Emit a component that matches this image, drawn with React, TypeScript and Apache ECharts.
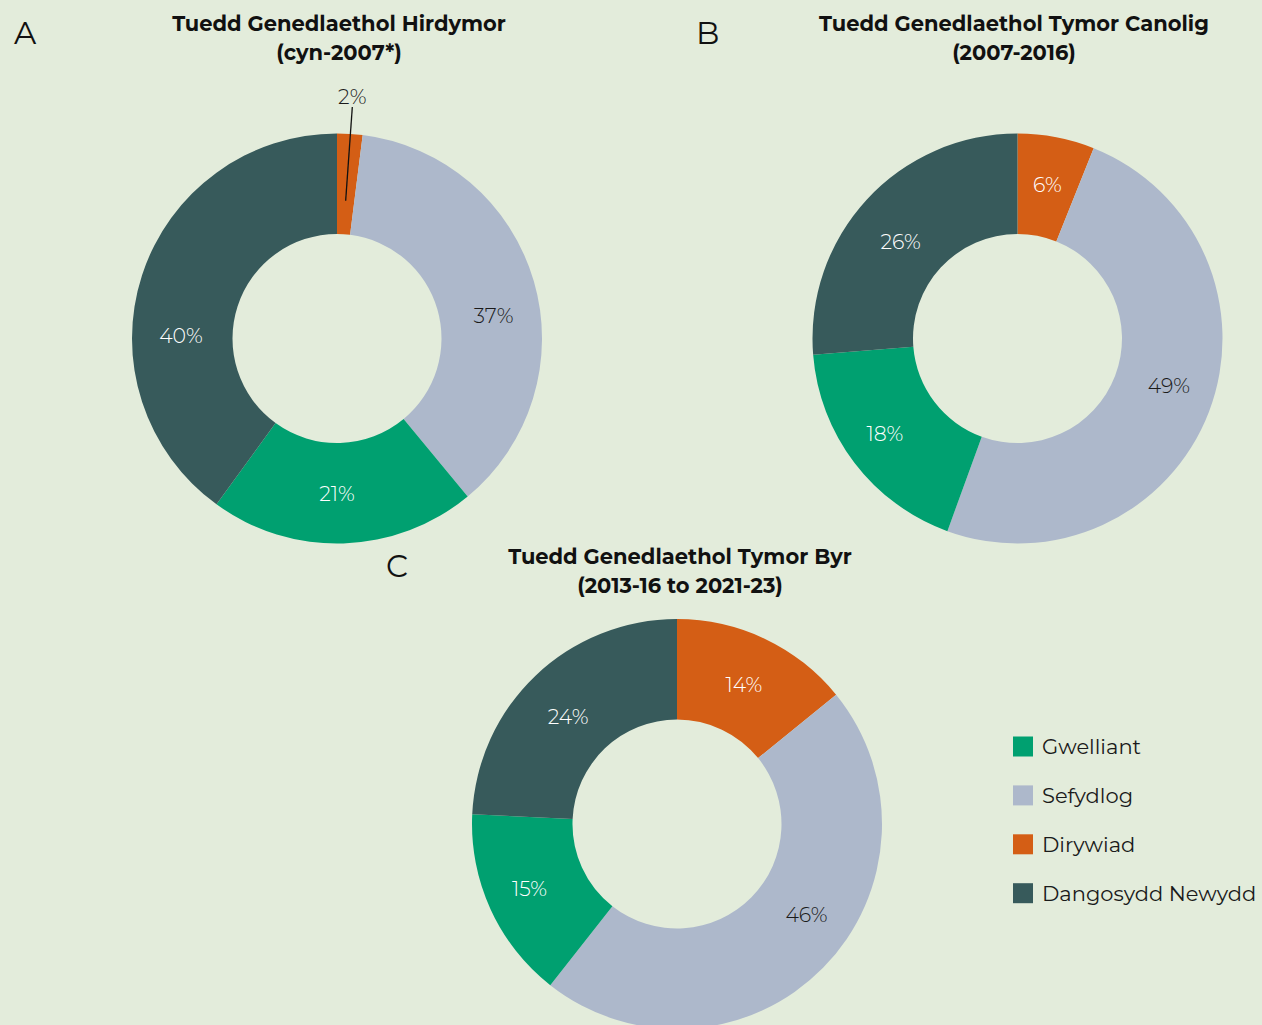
import React, { useEffect, useRef } from "react";
import * as echarts from "echarts";

const categories = ["Dirywiad", "Sefydlog", "Gwelliant", "Dangosydd Newydd"];
const legendOrder = ["Gwelliant", "Sefydlog", "Dirywiad", "Dangosydd Newydd"];
const colors: Record<string, string> = {
  Dirywiad: "#d45e15",
  Sefydlog: "#adb8cb",
  Gwelliant: "#00a070",
  "Dangosydd Newydd": "#375a5b",
};
const labelColors: Record<string, string> = {
  Dirywiad: "#ffffff",
  Sefydlog: "#1a1a1a",
  Gwelliant: "#ffffff",
  "Dangosydd Newydd": "#ffffff",
};

const valuesA = [2, 37, 21, 40];
const valuesB = [6, 49, 18, 26];
const valuesC = [14, 46, 15, 24];

const titleA = "Tuedd Genedlaethol Hirdymor\n(cyn-2007*)";
const titleB = "Tuedd Genedlaethol Tymor Canolig\n(2007-2016)";
const titleC = "Tuedd Genedlaethol Tymor Byr\n(2013-16 to 2021-23)";

// layout only: small nudges of the inside labels (px), per slice
const labelNudgeA = [[0, 0], [5, 21], [-5, -3], [-6, 46]];
const labelNudgeB = [[0, 1], [4, -9], [-7, -1], [-1, 10]];
const labelNudgeC = [[-1, 3], [17, -20], [-4, -1], [0, 7]];

const FONT = "Montserrat, Inter, 'Noto Sans', sans-serif";

function makeData(values: number[], outsideIdx: number | null) {
  return categories.map((name, i) => ({
    name,
    value: values[i],
    itemStyle: { color: colors[name] },
    label:
      i === outsideIdx
        ? { show: false }
        : { show: true, color: labelColors[name] },
  }));
}

function makePie(
  values: number[],
  center: [number, number],
  outsideIdx: number | null,
  nudge: number[][]
) {
  return {
    type: "pie",
    center,
    radius: [104.5, 205],
    startAngle: 90,
    clockwise: true,
    avoidLabelOverlap: false,
    silent: true,
    z: 2,
    label: {
      position: "inside",
      formatter: "{c}%",
      fontFamily: FONT,
      fontSize: 20.5,
      fontWeight: 300,
    },
    labelLine: { show: false },
    labelLayout: (params: any) => {
      const n = nudge[params.dataIndex] || [0, 0];
      return { dx: n[0], dy: n[1] };
    },
    itemStyle: { borderWidth: 0 },
    emphasis: { disabled: true },
    data: makeData(values, outsideIdx),
  };
}

export default function App() {
  const ref = useRef<HTMLDivElement>(null);
  useEffect(() => {
    document.body.style.margin = "0";
    const chart = echarts.init(ref.current!, null, { renderer: "svg" });
    const titleStyle = {
      fontFamily: FONT,
      fontSize: 21,
      fontWeight: "bold",
      color: "#111111",
      lineHeight: 29,
    };
    const letterStyle = {
      fontFamily: FONT,
      fontSize: 31,
      fontWeight: "normal",
      color: "#111111",
    };
    chart.setOption({
      animation: false,
      backgroundColor: "#e3ecdb",
      title: [
        { text: titleA, left: 334, top: 4, textAlign: "center", textStyle: titleStyle },
        { text: titleB, left: 1009, top: 4, textAlign: "center", textStyle: titleStyle },
        { text: titleC, left: 675, top: 537, textAlign: "center", textStyle: titleStyle },
        { text: "A", left: 9, top: 12, textStyle: letterStyle },
        { text: "B", left: 691, top: 12, textStyle: letterStyle },
        { text: "C", left: 381, top: 545, textStyle: letterStyle },
      ],
      legend: {
        orient: "vertical",
        left: 1008,
        top: 731,
        icon: "rect",
        itemWidth: 20,
        itemHeight: 20,
        itemGap: 27.9,
        data: legendOrder,
        selectedMode: false,
        textStyle: {
          fontFamily: FONT,
          fontSize: 21,
          lineHeight: 20,
          color: "#1a1a1a",
          padding: [0, 0, 0, 4],
        },
      },
      series: [
        makePie(valuesA, [337, 338.5], 0, labelNudgeA),
        makePie(valuesB, [1017.5, 338.5], null, labelNudgeB),
        makePie(valuesC, [677, 824], null, labelNudgeC),
        {
          type: "pie",
          center: [337, 338.5],
          radius: [0, 138],
          startAngle: 90,
          clockwise: true,
          silent: true,
          z: 5,
          avoidLabelOverlap: false,
          emphasis: { disabled: true },
          itemStyle: { color: "rgba(0,0,0,0)" },
          label: {
            show: false,
            position: "outside",
            formatter: "{c}%",
            fontFamily: FONT,
            fontSize: 20.5,
            fontWeight: 300,
            color: "#1a1a1a",
          },
          labelLine: { show: false },
          labelLayout: (params: any) => {
            const pts = params.labelLinePoints;
            if (!pts || !pts.length) return {};
            const end = pts[pts.length - 1];
            return { x: end[0] + 1, y: end[1] - 4, align: "center", verticalAlign: "bottom" };
          },
          data: categories.map((name, i) => ({
            name,
            value: valuesA[i],
            itemStyle: { color: "rgba(0,0,0,0)" },
            label: { show: i === 0 },
            labelLine:
              i === 0
                ? { show: true, length: 90, length2: 0, lineStyle: { color: "#111111", width: 1.3 } }
                : { show: false },
          })),
        },
      ],
    });
    return () => chart.dispose();
  }, []);
  return (
    <div
      ref={ref}
      style={{ position: "absolute", left: 0, top: 0, width: 1262, height: 1025 }}
    />
  );
}
